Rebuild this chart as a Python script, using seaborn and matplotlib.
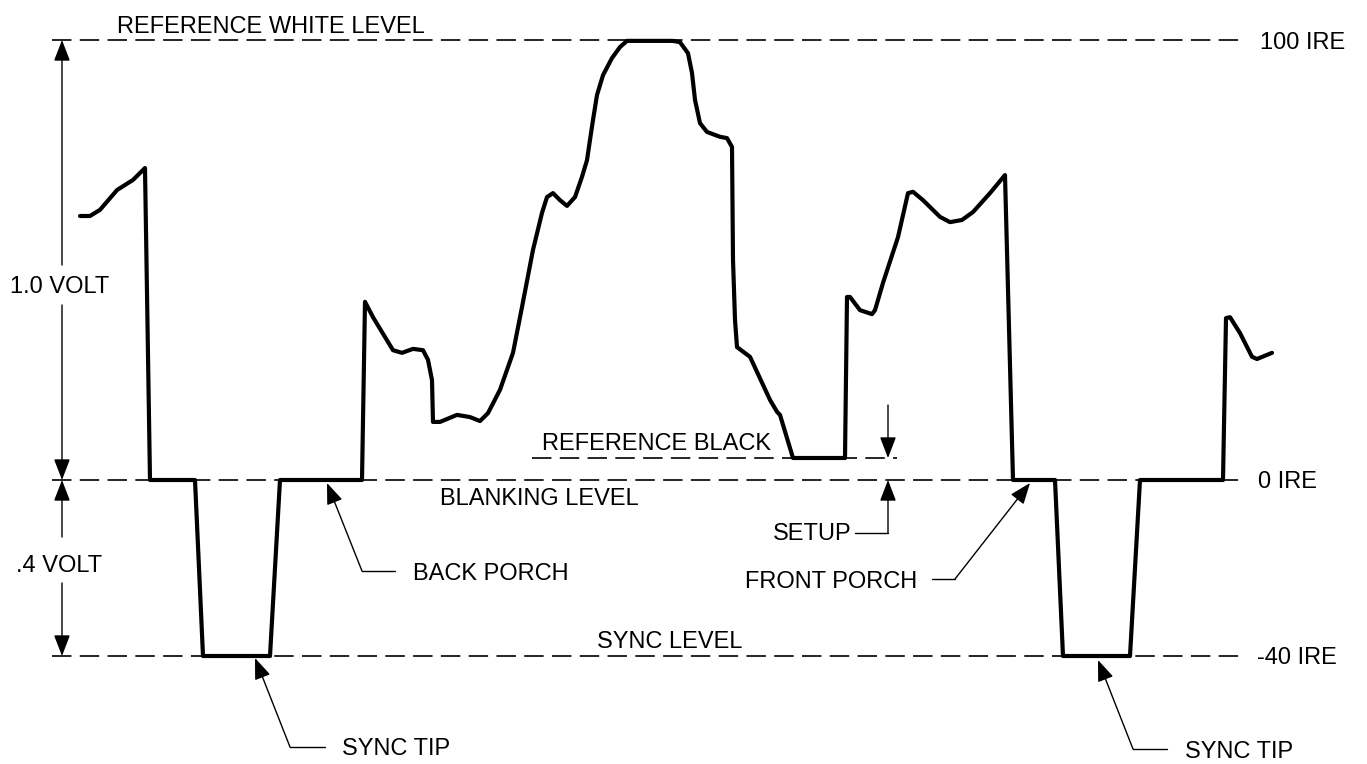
import matplotlib
matplotlib.use("Agg")
import pandas as pd
import seaborn as sns
import matplotlib.pyplot as plt

# -------------------------------
# data : one line of composite video (time in arbitrary units, level in IRE)
# -------------------------------
t_signal = [80, 90, 100, 117, 133, 145, 150, 195, 203, 270, 280, 362,
            365, 373, 393, 402, 413, 423, 428, 432, 433, 440, 457, 470, 480, 488,
            500, 513, 522, 533, 542, 547, 553, 560, 567, 575, 582, 587, 590,
            593, 597, 603, 612, 620, 627, 673, 680, 688, 692, 695, 700, 707,
            720, 727, 732, 733, 735, 737, 750, 770, 777, 780, 793, 845,
            847, 850, 860, 872, 875, 883, 898, 908, 913, 923, 940, 950, 962,
            973, 990, 1005, 1013, 1055, 1063, 1130, 1140, 1223,
            1226, 1230, 1240, 1252, 1257, 1272]
ire_signal = [60, 60, 61.4, 65.9, 68.2, 70.9, 0, 0, -40, -40, 0, 0,
              40.5, 37, 29.5, 28.9, 29.8, 29.5, 27.3, 22.7, 13.2, 13.2, 14.8, 14.3, 13.4, 15.2,
              20.5, 28.9, 39.3, 52.3, 60.7, 64.3, 65.2, 63.6, 62.3, 64.3, 68.9, 72.7, 77.3,
              81.8, 87.5, 92, 95.9, 98.4, 99.8, 99.8, 99.5, 97, 92.5, 86.4, 81.1, 79.1,
              78, 77.7, 75.7, 50, 36.4, 30.2, 28, 18.2, 15.5, 14.8, 5, 5,
              41.6, 41.6, 38.6, 37.7, 38.6, 44.8, 55.2, 65.2, 65.5, 63.6, 59.8, 58.6, 59.1,
              60.9, 65.2, 69.3, 0, 0, -40, -40, 0, 0,
              36.8, 37, 33.4, 28, 27.5, 28.9]

level_names = ["100 IRE", "0 IRE", "-40 IRE"]
level_values = [100, 0, -40]
black_level = 5

df = pd.DataFrame({"t": t_signal, "ire": ire_signal})

# -------------------------------
# layout helpers (pixel -> data)
# -------------------------------
W, H = 1367, 764
PX_PER_IRE = 4.4
Y0 = 480


def yv(py):
    return (Y0 - py) / PX_PER_IRE


sns.set_theme(style="white")
plt.rcParams["font.family"] = ["Liberation Sans", "DejaVu Sans"]
plt.rcParams["lines.scale_dashes"] = False

fig = plt.figure(figsize=(W / 100, H / 100), dpi=100)
ax = fig.add_axes([0, 0, 1, 1])

# dashed reference levels
for v in level_values:
    ax.plot([52, 1240], [v, v], color="black", lw=1.2, ls=(0, (14, 6)), zorder=1)
ax.plot([532, 897], [black_level, black_level], color="black", lw=1.2,
        ls=(0, (14, 6)), zorder=1)

# the waveform
sns.lineplot(data=df, x="t", y="ire", sort=False, estimator=None,
             color="black", lw=3.0, ax=ax, zorder=3)
ax.lines[-1].set_solid_joinstyle("round")
ax.lines[-1].set_solid_capstyle("round")
ax.set_xlim(0, W)
ax.set_ylim(yv(H), yv(0))
ax.axis("off")

thin = dict(color="black", lw=1.0)
head = dict(arrowstyle="-|>,head_length=1.3,head_width=0.5", color="black",
            lw=1.0, shrinkA=0, shrinkB=0, mutation_scale=10)


def arrow(x0, py0, x1, py1):
    ax.annotate("", xy=(x1, yv(py1)), xytext=(x0, yv(py0)), arrowprops=head)


def seg(x0, py0, x1, py1):
    ax.plot([x0, x1], [yv(py0), yv(py1)], **thin)


# 1.0 volt / .4 volt dimension arrows
arrow(62, 265, 62, 40)
arrow(62, 305, 62, 480)
arrow(62, 537, 62, 480)
arrow(62, 583, 62, 656)

# setup arrows
arrow(888, 405, 888, 458)
arrow(888, 533, 888, 480)
seg(888, 533, 855, 533)

# leaders
seg(395, 571, 362, 571)
arrow(362, 571, 327, 483)
seg(325, 747, 290, 747)
arrow(290, 747, 255, 658)
seg(1167, 749, 1133, 749)
arrow(1133, 749, 1098, 660)
seg(932, 579, 955, 579)
arrow(955, 579, 1030, 483)

fs = 17
labels = [
    ("REFERENCE WHITE LEVEL", 117, 33),
    ("1.0 VOLT", 10, 293),
    (".4 VOLT", 16, 572),
    ("BLANKING LEVEL", 440, 505),
    ("REFERENCE BLACK", 542, 450),
    ("SETUP", 773, 540),
    ("FRONT PORCH", 745, 588),
    ("BACK PORCH", 413, 580),
    ("SYNC TIP", 342, 755),
    ("SYNC TIP", 1185, 758),
    ("SYNC LEVEL", 597, 648),
]
for txt, x, py in labels:
    ax.text(x, yv(py), txt, fontsize=fs, ha="left", va="baseline", color="black")

for name, v, x, dy in zip(level_names, level_values, [1260, 1258, 1257], [9, 8, 8]):
    ax.text(x, v - dy / PX_PER_IRE, name, fontsize=fs, ha="left", va="baseline",
            color="black")

fig.savefig("out.png", dpi=100, facecolor="white")
